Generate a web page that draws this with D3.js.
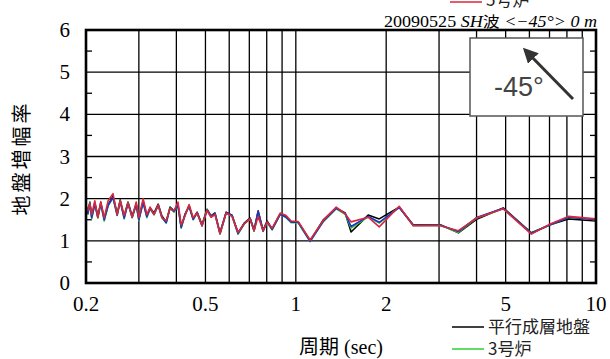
<!DOCTYPE html>
<html>
<head>
<meta charset="utf-8">
<script src="https://cdn.jsdelivr.net/npm/d3@7"></script>
<style>
  html, body { margin: 0; padding: 0; background: #fff; }
  svg { display: block; }
  .serif { font-family: 'Liberation Serif', 'Times New Roman', Tinos, 'DejaVu Serif', serif; }
  .cjk { font-family: 'Noto Sans CJK JP', 'Noto Sans CJK SC', sans-serif; }
</style>
</head>
<body>
<div id="chart"></div>
<script>
// Period (sec) sample points shared by every series
const periods = [0.200,0.203,0.206,0.209,0.214,0.219,0.224,0.230,0.237,0.246,
  0.254,0.260,0.268,0.276,0.285,0.294,0.300,0.310,0.319,0.327,
  0.337,0.348,0.358,0.370,0.381,0.393,0.405,0.415,0.428,0.441,
  0.455,0.469,0.487,0.506,0.522,0.538,0.559,0.586,0.613,0.642,
  0.673,0.704,0.726,0.749,0.778,0.802,0.834,0.887,0.928,0.965,
  1.018,1.116,1.233,1.363,1.460,1.528,1.742,1.896,2.21,2.46,
  3.03,3.48,4.02,4.91,6.09,7.04,8.09,10.0];

// 平行成層地盤
const flatGround = [1.85,1.68,1.92,1.57,1.90,1.59,1.90,1.52,1.85,2.06,
  1.64,1.97,1.57,1.92,1.59,1.87,1.52,1.94,1.59,1.78,
  1.66,1.87,1.59,1.45,1.80,1.71,1.85,1.33,1.64,1.83,
  1.52,1.68,1.38,1.75,1.59,1.66,1.19,1.68,1.61,1.19,
  1.42,1.54,1.26,1.71,1.25,1.47,1.28,1.64,1.57,1.45,
  1.45,1.00,1.49,1.78,1.66,1.21,1.61,1.52,1.80,1.38,
  1.38,1.19,1.52,1.78,1.19,1.38,1.52,1.47];

// 3号炉
const unit3 = [1.83,1.63,1.90,1.52,1.88,1.54,1.88,1.47,1.83,2.02,
  1.60,1.95,1.52,1.90,1.55,1.85,1.48,1.92,1.55,1.76,
  1.62,1.84,1.55,1.42,1.78,1.68,1.83,1.30,1.62,1.82,
  1.50,1.66,1.35,1.74,1.57,1.64,1.16,1.66,1.59,1.16,
  1.40,1.52,1.23,1.68,1.22,1.44,1.26,1.63,1.55,1.43,
  1.43,0.98,1.45,1.76,1.63,1.30,1.57,1.42,1.80,1.36,
  1.37,1.20,1.55,1.76,1.18,1.38,1.56,1.50];

// 4号炉
const unit4 = [1.82,1.65,1.89,1.55,1.87,1.56,1.89,1.50,1.84,2.03,
  1.61,1.94,1.54,1.89,1.56,1.86,1.50,1.91,1.57,1.77,
  1.63,1.85,1.56,1.43,1.77,1.70,1.84,1.32,1.63,1.82,
  1.51,1.67,1.36,1.73,1.58,1.65,1.17,1.67,1.60,1.17,
  1.41,1.53,1.24,1.69,1.23,1.45,1.27,1.63,1.56,1.44,
  1.44,0.99,1.46,1.77,1.65,1.34,1.58,1.44,1.79,1.37,
  1.37,1.22,1.56,1.77,1.18,1.38,1.56,1.50];

// 5号炉
const unit5 = [1.80,1.72,1.88,1.62,1.95,1.55,1.93,1.55,1.95,2.12,
  1.62,1.95,1.60,1.90,1.55,1.92,1.55,2.00,1.62,1.80,
  1.62,1.85,1.55,1.48,1.76,1.72,1.92,1.38,1.60,1.86,
  1.55,1.66,1.36,1.72,1.56,1.62,1.17,1.66,1.58,1.20,
  1.40,1.52,1.24,1.58,1.24,1.44,1.30,1.66,1.60,1.47,
  1.46,1.02,1.48,1.80,1.64,1.45,1.56,1.33,1.82,1.36,
  1.36,1.24,1.55,1.76,1.16,1.40,1.58,1.52];

const xTickLabels = [0.2, 0.5, 1, 2, 5, 10];
const xGrid = [0.3,0.4,0.5,0.6,0.7,0.8,0.9,1,2,3,4,5,6,7,8,9];
const yTicks = [0,1,2,3,4,5,6];
const yGrid = [1,2,3,4,5];
const yMinor = [0.5,1.5,2.5,3.5,4.5,5.5];

const W = 610, H = 359;
const svg = d3.select('#chart').append('svg')
  .attr('width', W).attr('height', H)
  .attr('viewBox', [0, 0, W, H]);

svg.append('rect').attr('width', W).attr('height', H).attr('fill', '#fff');

const x = d3.scaleLog().domain([0.2, 10]).range([86, 596]);
const y = d3.scaleLinear().domain([0, 6]).range([283, 30]);

// Grid
const grid = svg.append('g').attr('stroke', '#000').attr('stroke-width', 1.3);
grid.selectAll('line.v').data(xGrid).join('line')
  .attr('class', 'v')
  .attr('x1', d => x(d)).attr('x2', d => x(d))
  .attr('y1', y(0)).attr('y2', y(6));
grid.selectAll('line.h').data(yGrid).join('line')
  .attr('class', 'h')
  .attr('x1', x(0.2)).attr('x2', x(10))
  .attr('y1', d => y(d)).attr('y2', d => y(d));

// Minor ticks on left / right
grid.selectAll('line.ml').data(yMinor).join('line')
  .attr('class', 'ml')
  .attr('x1', x(0.2)).attr('x2', x(0.2) + 6)
  .attr('y1', d => y(d)).attr('y2', d => y(d));
grid.selectAll('line.mr').data(yMinor).join('line')
  .attr('class', 'mr')
  .attr('x1', x(10)).attr('x2', x(10) - 6)
  .attr('y1', d => y(d)).attr('y2', d => y(d));

// Series
const series = [
  { name: '平行成層地盤', values: flatGround, color: '#000000' },
  { name: '3号炉', values: unit3, color: '#2fd02f' },
  { name: '4号炉', values: unit4, color: '#1f2fd0' },
  { name: '5号炉', values: unit5, color: '#d8283c' },
];

const line = d3.line()
  .x((d, i) => x(periods[i]))
  .y(d => y(d));

svg.append('g').selectAll('path').data(series).join('path')
  .attr('d', d => line(d.values))
  .attr('fill', 'none')
  .attr('stroke', d => d.color)
  .attr('stroke-width', 1.6)
  .attr('stroke-linejoin', 'round');

// Frame
svg.append('rect')
  .attr('x', x(0.2)).attr('y', y(6))
  .attr('width', x(10) - x(0.2)).attr('height', y(0) - y(6))
  .attr('fill', 'none').attr('stroke', '#000').attr('stroke-width', 2.6);

// Y tick labels
svg.append('g').selectAll('text').data(yTicks).join('text')
  .attr('class', 'serif')
  .attr('x', 70).attr('y', d => y(d) + 7)
  .attr('text-anchor', 'end')
  .attr('font-size', 21)
  .text(d => d);

// X tick labels
svg.append('g').selectAll('text').data(xTickLabels).join('text')
  .attr('class', 'serif')
  .attr('x', d => x(d)).attr('y', 311)
  .attr('text-anchor', 'middle')
  .attr('font-size', 21)
  .text(d => d);

// Axis titles
const xt = svg.append('text')
  .attr('x', 341).attr('y', 354)
  .attr('text-anchor', 'middle')
  .attr('font-size', 20);
xt.append('tspan').attr('class', 'cjk').text('周期');
xt.append('tspan').attr('class', 'serif').text(' (sec)');

svg.append('text')
  .attr('class', 'cjk')
  .attr('transform', 'translate(29,158) rotate(-90)')
  .attr('text-anchor', 'middle')
  .attr('font-size', 20)
  .attr('letter-spacing', 3)
  .text('地盤増幅率');

// Case title
const title = svg.append('text')
  .attr('class', 'serif')
  .attr('x', 384).attr('y', 27)
  .attr('font-size', 16)
  .attr('textLength', 213)
  .attr('lengthAdjust', 'spacingAndGlyphs');
title.append('tspan').text('20090525 ');
title.append('tspan').attr('font-style', 'italic').text('SH');
title.append('tspan').attr('class', 'cjk').attr('font-size', 15).text('波');
title.append('tspan').attr('font-style', 'italic').text(' <−45°> 0 m');

// Inset: incidence direction
svg.append('rect')
  .attr('x', 470).attr('y', 38).attr('width', 113).attr('height', 78)
  .attr('fill', '#fff').attr('stroke', '#555').attr('stroke-width', 1.5);
svg.append('text')
  .attr('x', 519).attr('y', 96)
  .attr('text-anchor', 'middle')
  .attr('font-family', "'Liberation Sans', Arial, sans-serif")
  .attr('font-size', 27).attr('fill', '#444')
  .text('-45°');
svg.append('defs').append('marker')
  .attr('id', 'arrowhead')
  .attr('viewBox', '0 -5 10 10')
  .attr('refX', 8).attr('refY', 0)
  .attr('markerWidth', 5).attr('markerHeight', 5)
  .attr('orient', 'auto')
  .append('path')
  .attr('d', 'M0,-5L10,0L0,5Z')
  .attr('fill', '#333');
svg.append('line')
  .attr('x1', 573).attr('y1', 99).attr('x2', 525).attr('y2', 50)
  .attr('stroke', '#333').attr('stroke-width', 3)
  .attr('marker-end', 'url(#arrowhead)');

// Legend (only the visible entries)
const legendItems = [
  { label: '5号炉', color: '#d8283c', y: 2, lx: 450, ty: 6 },
  { label: '平行成層地盤', color: '#000000', y: 327, lx: 452, ty: 333 },
  { label: '3号炉', color: '#2fd02f', y: 349, lx: 452, ty: 355 },
];
const lg = svg.append('g').selectAll('g').data(legendItems).join('g');
lg.append('line')
  .attr('x1', d => d.lx).attr('x2', d => d.lx + 32)
  .attr('y1', d => d.y).attr('y2', d => d.y)
  .attr('stroke', d => d.color).attr('stroke-width', 1.5);
lg.append('text')
  .attr('class', 'cjk')
  .attr('x', d => d.lx + 36).attr('y', d => d.ty)
  .attr('font-size', 17)
  .attr('fill', '#222')
  .text(d => d.label);
</script>
</body>
</html>
